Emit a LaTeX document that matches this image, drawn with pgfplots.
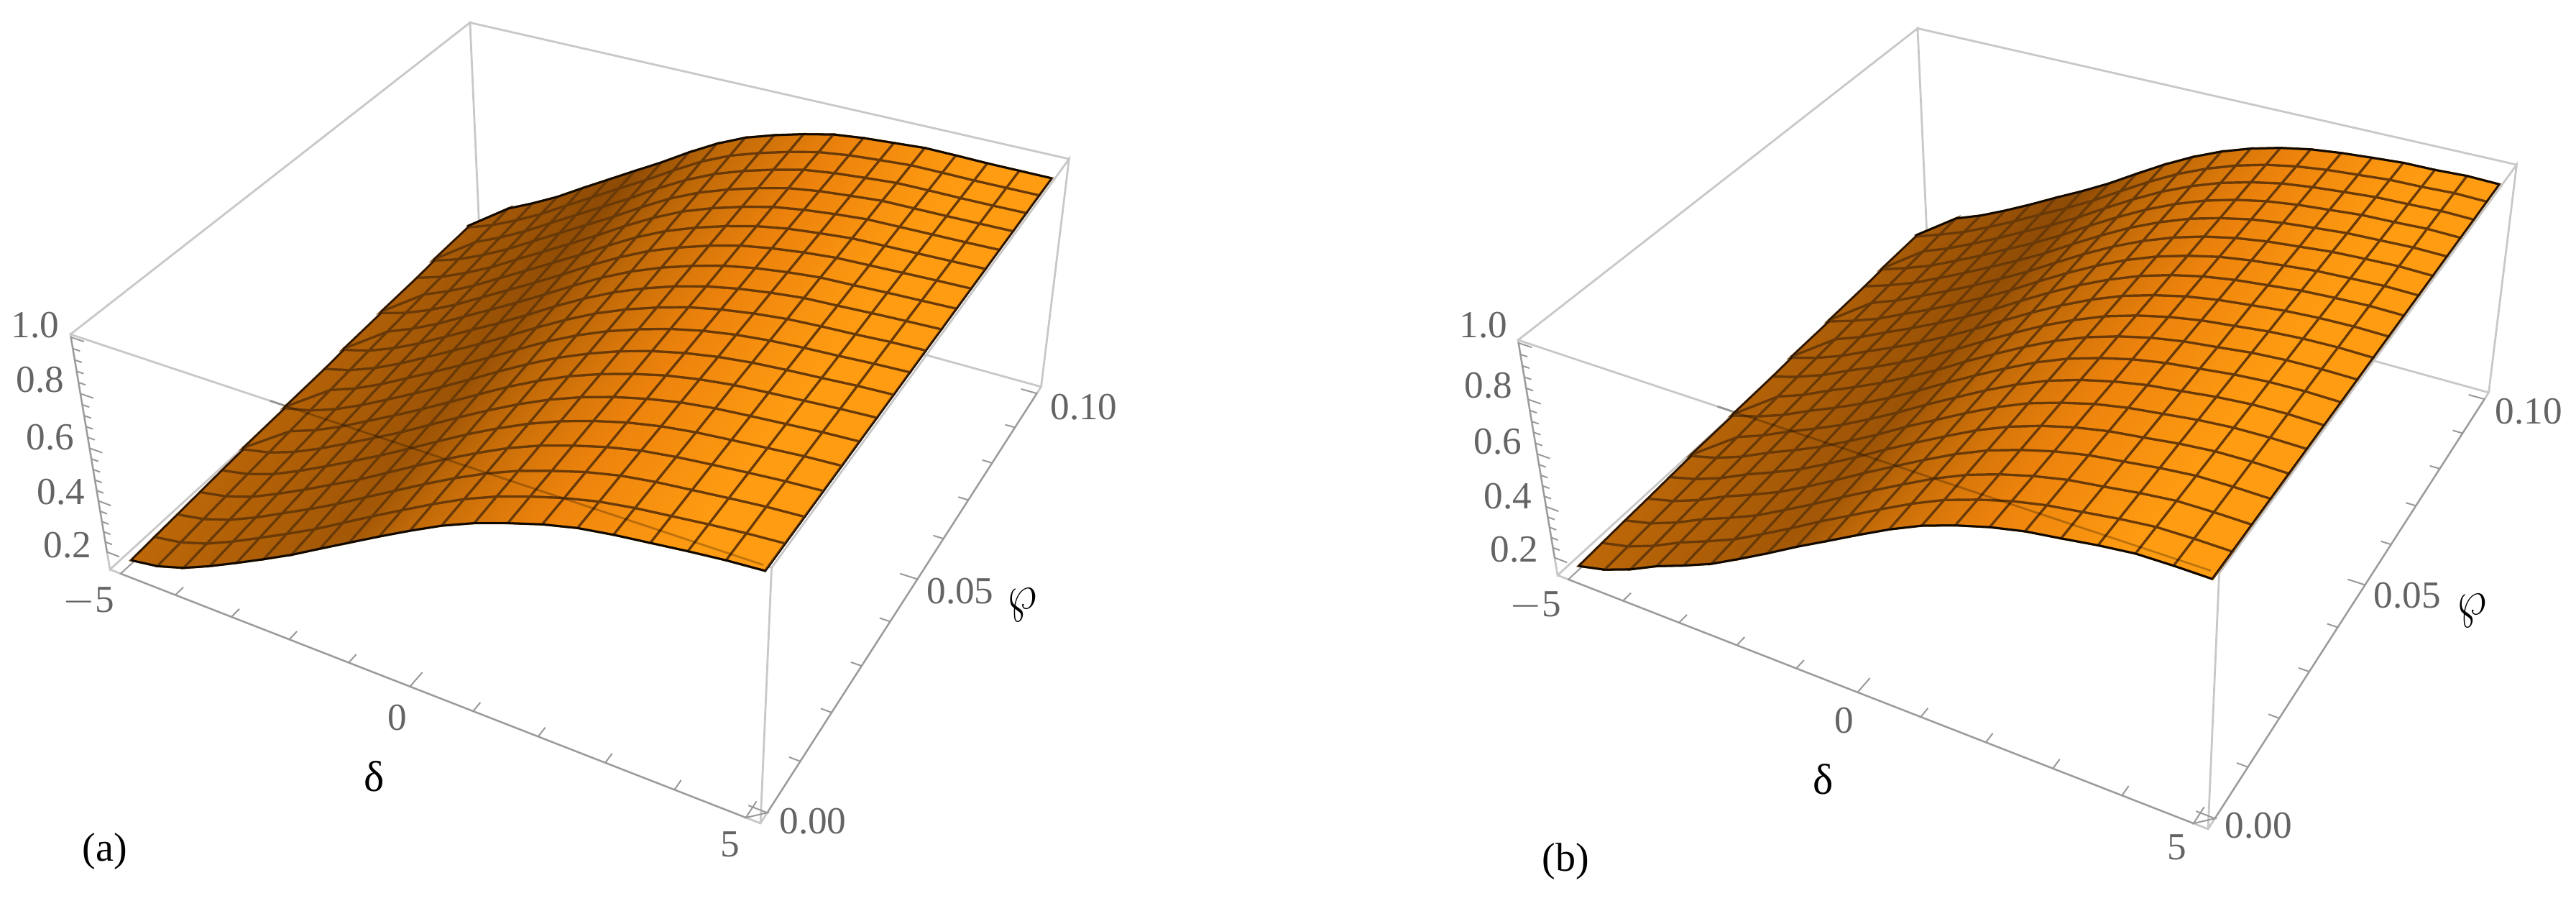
\documentclass[border=0pt]{standalone}
\usepackage{fontspec}
\setmainfont{Liberation Serif}
\usepackage{pgfplots}
\usepackage{pgfplotstable}
\pgfplotsset{compat=1.18}
\definecolor{boxc}{RGB}{200,200,200}
\definecolor{tickt}{RGB}{100,100,100}
\definecolor{meshc}{RGB}{105,58,8}
% camera: corners of the box in image pixels, and perspective weights
\newcommand\setcam[9]{%
 \pgfmathsetmacro\Cx{#1}\pgfmathsetmacro\Cy{#2}%
 \pgfmathsetmacro\gA{#3}\pgfmathsetmacro\gB{#4}\pgfmathsetmacro\gC{#5}%
 \pgfmathsetmacro\Ax{\gA*(#6)-\Cx}\pgfmathsetmacro\Bx{\gB*(#7)-\Cx}%
 \pgfmathsetmacro\Dx{\gC*(#8)-\Cx}\setcamb{#9}}
\newcommand\setcamb[1]{\setcamc#1\relax}
\def\setcamc#1,#2,#3\relax{%
 \pgfmathsetmacro\Ay{\gA*(#1)-\Cy}\pgfmathsetmacro\By{\gB*(#2)-\Cy}%
 \pgfmathsetmacro\Dy{\gC*(#3)-\Cy}}
\newcommand\PX[3]{((\Cx+(#1)*\Ax+(#2)*\Bx+(#3)*\Dx)/(1+(#1)*(\gA-1)+(#2)*(\gB-1)+(#3)*(\gC-1)))}
\newcommand\PY[3]{(1260-(\Cy+(#1)*\Ay+(#2)*\By+(#3)*\Dy)/(1+(#1)*(\gA-1)+(#2)*(\gB-1)+(#3)*(\gC-1)))}
\def\SU{(0.024+0.048*mod(\coordindex,21))}
\def\SV{(0.0192+0.05342*floor(\coordindex/21))}
\def\SW{((\thisrow{z}-0.13)/0.88)}
\def\KU{(0.40-0.1*\SV)}
% z on a grid: delta = -5 ... 5 in 20 steps along each line, wp = 0 ... 0.10 in 18 steps from line to line
\pgfplotstableread[row sep=crcr]{
z\\
.156\\.174\\.209\\.258\\.312\\.368\\.426\\.490\\.553\\.616\\.677\\.735\\.784\\.824\\.860\\.888\\.906\\.920\\.934\\.946\\.954\\
.162\\.181\\.217\\.266\\.321\\.377\\.435\\.499\\.563\\.625\\.686\\.743\\.791\\.830\\.864\\.891\\.909\\.922\\.935\\.946\\.954\\
.167\\.188\\.225\\.274\\.330\\.386\\.445\\.509\\.572\\.635\\.695\\.750\\.797\\.835\\.869\\.895\\.912\\.924\\.936\\.947\\.954\\
.173\\.195\\.232\\.283\\.338\\.396\\.454\\.518\\.582\\.644\\.703\\.758\\.804\\.841\\.873\\.898\\.914\\.926\\.937\\.947\\.954\\
.179\\.202\\.240\\.291\\.347\\.405\\.464\\.527\\.591\\.654\\.712\\.765\\.810\\.847\\.878\\.901\\.917\\.928\\.938\\.948\\.954\\
.184\\.208\\.248\\.299\\.356\\.414\\.473\\.537\\.601\\.663\\.721\\.773\\.817\\.853\\.882\\.905\\.920\\.930\\.939\\.948\\.954\\
.190\\.215\\.256\\.307\\.365\\.423\\.483\\.546\\.610\\.673\\.730\\.781\\.823\\.858\\.887\\.908\\.923\\.932\\.940\\.948\\.954\\
.196\\.222\\.263\\.315\\.373\\.432\\.492\\.555\\.620\\.682\\.739\\.788\\.830\\.864\\.891\\.911\\.925\\.934\\.941\\.949\\.954\\
.201\\.229\\.271\\.323\\.382\\.441\\.502\\.565\\.629\\.692\\.748\\.796\\.836\\.870\\.896\\.915\\.928\\.936\\.942\\.949\\.954\\
.207\\.236\\.279\\.332\\.391\\.451\\.511\\.574\\.639\\.701\\.757\\.804\\.843\\.876\\.900\\.918\\.931\\.938\\.943\\.950\\.954\\
.213\\.243\\.287\\.340\\.400\\.460\\.520\\.583\\.649\\.710\\.765\\.811\\.850\\.881\\.904\\.921\\.934\\.939\\.945\\.950\\.954\\
.218\\.250\\.295\\.348\\.409\\.469\\.530\\.593\\.658\\.720\\.774\\.819\\.856\\.887\\.909\\.925\\.937\\.941\\.946\\.950\\.954\\
.224\\.257\\.302\\.356\\.417\\.478\\.539\\.602\\.668\\.729\\.783\\.826\\.863\\.893\\.913\\.928\\.939\\.943\\.947\\.951\\.954\\
.230\\.264\\.310\\.364\\.426\\.487\\.549\\.611\\.677\\.739\\.792\\.834\\.869\\.898\\.918\\.931\\.942\\.945\\.948\\.951\\.954\\
.235\\.270\\.318\\.372\\.435\\.496\\.558\\.621\\.687\\.748\\.801\\.842\\.876\\.904\\.922\\.935\\.945\\.947\\.949\\.951\\.954\\
.241\\.277\\.326\\.381\\.444\\.506\\.568\\.630\\.696\\.758\\.809\\.849\\.882\\.910\\.927\\.938\\.948\\.949\\.950\\.952\\.954\\
.247\\.284\\.333\\.389\\.452\\.515\\.577\\.639\\.706\\.767\\.818\\.857\\.889\\.916\\.931\\.941\\.950\\.951\\.951\\.952\\.954\\
.252\\.291\\.341\\.397\\.461\\.524\\.587\\.649\\.715\\.777\\.827\\.864\\.895\\.921\\.936\\.945\\.953\\.953\\.952\\.953\\.954\\
.258\\.298\\.349\\.405\\.470\\.533\\.596\\.658\\.725\\.786\\.836\\.872\\.902\\.927\\.940\\.948\\.956\\.955\\.953\\.953\\.953\\
}\tblA
\pgfplotstableread[row sep=crcr]{
z\\
.156\\.183\\.226\\.280\\.324\\.372\\.432\\.494\\.559\\.620\\.682\\.742\\.795\\.836\\.870\\.896\\.913\\.931\\.945\\.947\\.946\\
.161\\.188\\.231\\.285\\.330\\.378\\.438\\.500\\.565\\.626\\.688\\.747\\.799\\.839\\.873\\.898\\.915\\.932\\.945\\.947\\.946\\
.166\\.194\\.237\\.290\\.335\\.384\\.444\\.505\\.570\\.632\\.693\\.752\\.803\\.843\\.875\\.900\\.916\\.933\\.946\\.948\\.947\\
.170\\.199\\.242\\.295\\.341\\.390\\.449\\.511\\.576\\.638\\.699\\.757\\.807\\.846\\.878\\.902\\.918\\.934\\.946\\.948\\.947\\
.175\\.205\\.247\\.300\\.346\\.396\\.455\\.517\\.582\\.644\\.704\\.762\\.811\\.850\\.881\\.904\\.919\\.935\\.946\\.949\\.947\\
.180\\.210\\.252\\.305\\.352\\.403\\.461\\.522\\.588\\.649\\.710\\.767\\.816\\.853\\.884\\.906\\.921\\.936\\.946\\.949\\.948\\
.185\\.215\\.258\\.310\\.358\\.409\\.467\\.528\\.593\\.655\\.716\\.772\\.820\\.857\\.886\\.908\\.922\\.937\\.947\\.950\\.948\\
.189\\.221\\.263\\.315\\.363\\.415\\.473\\.534\\.599\\.661\\.721\\.777\\.824\\.860\\.889\\.910\\.924\\.938\\.947\\.950\\.948\\
.194\\.226\\.268\\.320\\.369\\.421\\.479\\.539\\.605\\.667\\.727\\.782\\.828\\.864\\.892\\.912\\.925\\.939\\.947\\.950\\.949\\
.199\\.232\\.274\\.326\\.375\\.427\\.484\\.545\\.610\\.673\\.733\\.786\\.832\\.867\\.894\\.914\\.927\\.940\\.948\\.951\\.949\\
.204\\.237\\.279\\.331\\.380\\.433\\.490\\.551\\.616\\.679\\.738\\.791\\.836\\.870\\.897\\.916\\.929\\.941\\.948\\.951\\.949\\
.209\\.242\\.284\\.336\\.386\\.439\\.496\\.556\\.622\\.685\\.744\\.796\\.840\\.874\\.900\\.918\\.930\\.942\\.948\\.952\\.950\\
.213\\.248\\.289\\.341\\.391\\.445\\.502\\.562\\.628\\.691\\.749\\.801\\.844\\.877\\.903\\.920\\.932\\.943\\.948\\.952\\.950\\
.218\\.253\\.295\\.346\\.397\\.451\\.508\\.568\\.633\\.697\\.755\\.806\\.848\\.881\\.905\\.922\\.933\\.944\\.949\\.953\\.950\\
.223\\.259\\.300\\.351\\.403\\.458\\.514\\.573\\.639\\.702\\.761\\.811\\.853\\.884\\.908\\.924\\.935\\.945\\.949\\.953\\.951\\
.228\\.264\\.305\\.356\\.408\\.464\\.519\\.579\\.645\\.708\\.766\\.816\\.857\\.888\\.911\\.926\\.936\\.946\\.949\\.954\\.951\\
.232\\.269\\.311\\.361\\.414\\.470\\.525\\.585\\.651\\.714\\.772\\.821\\.861\\.891\\.914\\.928\\.938\\.947\\.950\\.954\\.951\\
.237\\.275\\.316\\.366\\.419\\.476\\.531\\.590\\.656\\.720\\.778\\.826\\.865\\.895\\.916\\.930\\.939\\.948\\.950\\.955\\.952\\
.242\\.280\\.321\\.371\\.425\\.482\\.537\\.596\\.662\\.726\\.783\\.831\\.869\\.898\\.919\\.932\\.941\\.949\\.950\\.955\\.952\\
}\tblB
\pgfplotstableread[row sep=crcr]{
u v w\\
0 0 0\\1 0 0\\1 1 0\\0 1 0\\0 0 0\\0 0 1\\1 0 1\\1 0 0\\1 0 1\\1 1 1\\1 1 0\\1 1 1\\0 1 1\\0 1 0\\0 1 1\\0 0 1\\
}\tblBox
\pgfplotstableread[row sep=crcr]{
u v w\\
.32 0 1\\.99 0 1\\
}\tblTop
\pgfplotstableread[row sep=crcr]{
u v w\\
.984 .0192 .932\\.984 .5 .934\\.984 .98 .935\\
}\tblRight
\pgfplotstableread[row sep=crcr]{
u v w\\
.0192 0 0\\.0192 .030 0\\.0192 0 0\\.1154 0 0\\.1154 .018 0\\.1154 0 0\\.2115 0 0\\.2115 .018 0\\.2115 0 0\\.3077 0 0\\.3077 .018 0\\.3077 0 0\\.4038 0 0\\.4038 .018 0\\.4038 0 0\\.5 0 0\\.5 .030 0\\.5 0 0\\.5962 0 0\\.5962 .018 0\\.5962 0 0\\.6923 0 0\\.6923 .018 0\\.6923 0 0\\.7885 0 0\\.7885 .018 0\\.7885 0 0\\.8846 0 0\\.8846 .018 0\\.8846 0 0\\.9808 0 0\\.9808 .030 0\\.9808 0 0\\
1 .0192 0\\.975 .0192 0\\1 .0192 0\\1 .1154 0\\.985 .1154 0\\1 .1154 0\\1 .2115 0\\.985 .2115 0\\1 .2115 0\\1 .3077 0\\.985 .3077 0\\1 .3077 0\\1 .4038 0\\.985 .4038 0\\1 .4038 0\\1 .5 0\\.975 .5 0\\1 .5 0\\1 .5962 0\\.985 .5962 0\\1 .5962 0\\1 .6923 0\\.985 .6923 0\\1 .6923 0\\1 .7885 0\\.985 .7885 0\\1 .7885 0\\1 .8846 0\\.985 .8846 0\\1 .8846 0\\1 .9808 0\\.975 .9808 0\\1 .9808 0\\
}\tblTicksA
\pgfplotstableread[row sep=crcr]{
u v w\\
0 0 .0795\\.022 0 .0795\\0 0 .0795\\0 0 .1250\\.012 0 .1250\\0 0 .1250\\0 0 .1705\\.012 0 .1705\\0 0 .1705\\0 0 .2159\\.012 0 .2159\\0 0 .2159\\0 0 .2614\\.012 0 .2614\\0 0 .2614\\0 0 .3068\\.022 0 .3068\\0 0 .3068\\0 0 .3523\\.012 0 .3523\\0 0 .3523\\0 0 .3977\\.012 0 .3977\\0 0 .3977\\0 0 .4432\\.012 0 .4432\\0 0 .4432\\0 0 .4886\\.012 0 .4886\\0 0 .4886\\0 0 .5341\\.022 0 .5341\\0 0 .5341\\0 0 .5795\\.012 0 .5795\\0 0 .5795\\0 0 .6250\\.012 0 .6250\\0 0 .6250\\0 0 .6705\\.012 0 .6705\\0 0 .6705\\0 0 .7159\\.012 0 .7159\\0 0 .7159\\0 0 .7614\\.022 0 .7614\\0 0 .7614\\0 0 .8068\\.012 0 .8068\\0 0 .8068\\0 0 .8523\\.012 0 .8523\\0 0 .8523\\0 0 .8977\\.012 0 .8977\\0 0 .8977\\0 0 .9432\\.012 0 .9432\\0 0 .9432\\0 0 .9886\\.022 0 .9886\\0 0 .9886\\
}\tblTicksZ
\newcommand\lab[3]{\node[text=tickt,font=\fontsize{13.3}{14}\selectfont,inner sep=0pt] at (axis cs:#1,1260-#2,0) {#3};}
\newcommand\drawpanel[1]{%
 \addplot3[boxc,line width=0.7pt] table[x expr={\PX{\thisrow{u}}{\thisrow{v}}{\thisrow{w}}},y expr={\PY{\thisrow{u}}{\thisrow{v}}{\thisrow{w}}},z expr=0]{\tblBox};
 \addplot3[gray!80,line width=0.5pt] table[x expr={\PX{\thisrow{u}}{\thisrow{v}}{\thisrow{w}}},y expr={\PY{\thisrow{u}}{\thisrow{v}}{\thisrow{w}}},z expr=0]{\tblTicksA};
 \addplot3[gray!80,line width=0.5pt] table[x expr={\PX{\thisrow{u}}{\thisrow{v}}{\thisrow{w}}},y expr={\PY{\thisrow{u}}{\thisrow{v}}{\thisrow{w}}},z expr=0]{\tblTicksZ};
 \addplot3[surf,shader=faceted interp,faceted color=meshc,line width=0.8pt,mesh/rows=19,mesh/cols=21,
   point meta={min(1,0.05+0.13*(1-\SV)+0.16*max(0,\KU-\SU)/\KU+0.92*max(0,\SU-\KU)/0.55)}]
   table[x index=0,y index=0,z index=0,x expr={\PX{\SU}{\SV}{\SW}},y expr={\PY{\SU}{\SV}{\SW}},z expr=0]{#1};
 \addplot3[black,opacity=0.25,line width=0.7pt] table[x expr={\PX{\thisrow{u}}{\thisrow{v}}{\thisrow{w}}},y expr={\PY{\thisrow{u}}{\thisrow{v}}{\thisrow{w}}},z expr=0]{\tblTop};
 \addplot3[black!85!meshc,line width=0.7pt,skip coords between index={21}{399}] table[x index=0,y index=0,z index=0,x expr={\PX{\SU}{\SV}{\SW}},y expr={\PY{\SU}{\SV}{\SW}},z expr=0]{#1};
 \addplot3[black!85!meshc,line width=0.7pt,skip coords between index={0}{378}] table[x index=0,y index=0,z index=0,x expr={\PX{\SU}{\SV}{\SW}},y expr={\PY{\SU}{\SV}{\SW}},z expr=0]{#1};
 \addplot3[black!70!meshc,line width=0.45pt,each nth point=21] table[x index=0,y index=0,z index=0,x expr={\PX{\SU}{\SV}{\SW}},y expr={\PY{\SU}{\SV}{\SW}},z expr=0]{#1};
 \addplot3[black!70!meshc,line width=0.45pt] table[x expr={\PX{\thisrow{u}}{\thisrow{v}}{\thisrow{w}}},y expr={\PY{\thisrow{u}}{\thisrow{v}}{\thisrow{w}}},z expr=0]{\tblRight};
}
\pgfplotsset{panelaxis/.style={scale only axis,width=896pt,height=315pt,xmin=0,xmax=3584,ymin=0,ymax=1260,zmin=-1,zmax=1,
  view={0}{90},axis lines=none,clip=false,at={(0,0)},anchor=origin,
  colormap={orangeshade}{rgb255=(130,68,5) rgb255=(190,104,8) rgb255=(236,130,12) rgb255=(255,156,18)},
  point meta min=0,point meta max=1}}
\begin{document}
\begin{tikzpicture}
\path[use as bounding box] (0,0) rectangle (896pt,315pt);
\setcam{153}{792}{0.856}{1.23}{0.93}{1058}{667}{98}{1145,322,465}
\begin{axis}[panelaxis]
\drawpanel{\tblA}
\lab{49}{452}{1.0}\lab{56}{528}{0.8}\lab{70}{608}{0.6}\lab{85}{684}{0.4}\lab{94}{758}{0.2}
\lab{123}{836}{$-$5}\lab{553}{998}{0}\lab{1016}{1174}{5}
\lab{1131}{1142}{0.00}\lab{1336}{822}{0.05}\lab{1508}{566}{0.10}
\node[font=\fontsize{15}{16}\selectfont] at (axis cs:521,1260-1080,0) {δ};
\node[font=\fontsize{18}{18}\selectfont,rotate=15] at (axis cs:1423,1260-840,0) {$\wp$};
\node[font=\fontsize{14}{15}\selectfont] at (axis cs:146,1260-1184,0) {(a)};
\end{axis}
\setcam{2167}{800}{0.856}{1.23}{0.93}{3072}{2681}{2112}{1153,330,473}
\begin{axis}[panelaxis]
\drawpanel{\tblB}
\lab{2064}{452}{1.0}\lab{2071}{536}{0.8}\lab{2084}{614}{0.6}\lab{2098}{690}{0.4}\lab{2107}{764}{0.2}
\lab{2136}{842}{$-$5}\lab{2566}{1002}{0}\lab{3029}{1178}{5}
\lab{3142}{1148}{0.00}\lab{3349}{828}{0.05}\lab{3518}{572}{0.10}
\node[font=\fontsize{15}{16}\selectfont] at (axis cs:2537,1260-1084,0) {δ};
\node[font=\fontsize{18}{18}\selectfont,rotate=15] at (axis cs:3440,1260-848,0) {$\wp$};
\node[font=\fontsize{14}{15}\selectfont] at (axis cs:2178,1260-1198,0) {(b)};
\end{axis}
\end{tikzpicture}
\end{document}
